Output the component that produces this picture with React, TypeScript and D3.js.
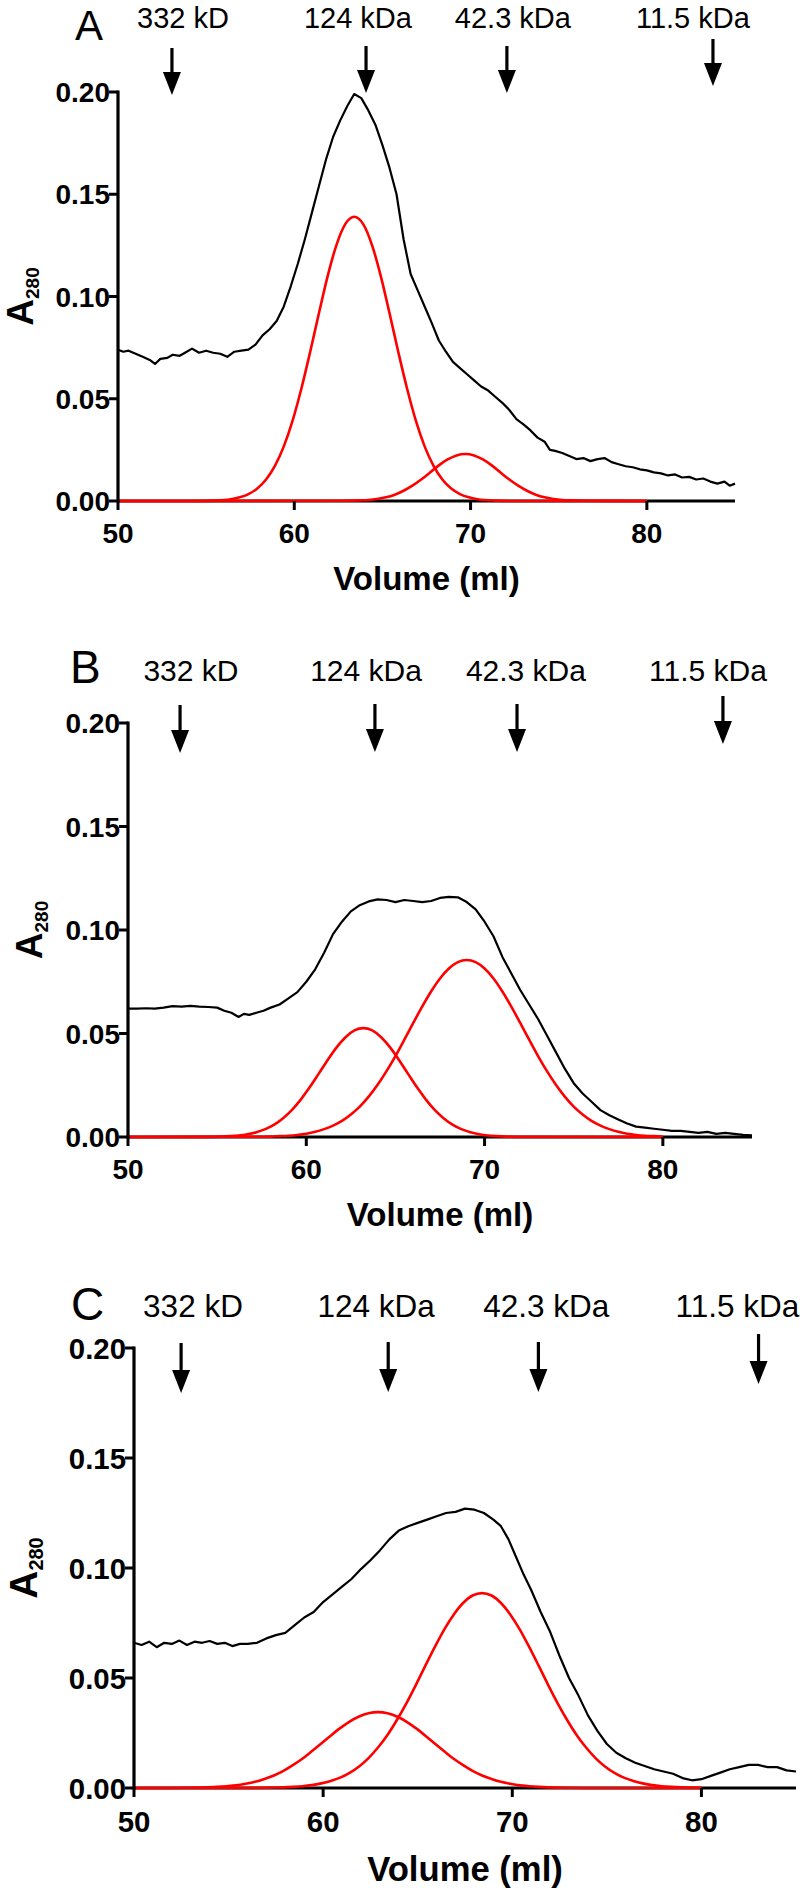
import React from "react";
import * as d3 from "d3";

// ---------- data ----------
const markerLabels = ["332 kD", "124 kDa", "42.3 kDa", "11.5 kDa"];
const xTicks = [50, 60, 70, 80];
const yTicks = [0, 0.05, 0.1, 0.15, 0.2];

// arrow positions (ml) and label centres (ml) for each panel
const arrowsA = [53.06, 64.07, 72.06, 83.75];
const arrowsB = [52.92, 63.85, 71.82, 83.37];
const arrowsC = [52.49, 63.44, 71.38, 83.02];
const labelsA = [53.69, 63.61, 72.4, 82.61];
const labelsB = [53.53, 63.35, 72.32, 82.53];
const labelsC = [53.12, 62.8, 71.8, 81.9];

// measured traces [volume ml, A280]
const traceA: [number, number][] = [
  [50.0, 0.074], [50.3, 0.073], [50.6, 0.0735], [51.0, 0.072], [51.4, 0.0705], [51.8, 0.069], [52.1, 0.067],
  [52.4, 0.0695], [52.8, 0.07], [53.1, 0.0715], [53.5, 0.071], [53.8, 0.0725], [54.2, 0.0745], [54.6, 0.0725],
  [55.0, 0.0735], [55.4, 0.0725], [55.8, 0.072], [56.2, 0.0705], [56.6, 0.073], [57.0, 0.0735], [57.4, 0.074],
  [57.8, 0.0765], [58.2, 0.081], [58.6, 0.084], [59.0, 0.088], [59.4, 0.095], [59.8, 0.105], [60.2, 0.116],
  [60.6, 0.128], [61.0, 0.141], [61.4, 0.154], [61.8, 0.167], [62.2, 0.178], [62.6, 0.186], [63.0, 0.193],
  [63.4, 0.199], [63.8, 0.197], [64.2, 0.191], [64.6, 0.184], [65.0, 0.174], [65.4, 0.163], [65.8, 0.15],
  [66.2, 0.128], [66.6, 0.111], [67.0, 0.103], [67.4, 0.095], [67.8, 0.087], [68.2, 0.0785], [68.6, 0.073],
  [69.0, 0.068], [69.4, 0.065], [69.8, 0.062], [70.2, 0.059], [70.6, 0.056], [71.0, 0.054], [71.4, 0.051],
  [71.8, 0.048], [72.2, 0.0445], [72.6, 0.04], [73.0, 0.0375], [73.4, 0.0345], [73.8, 0.031], [74.2, 0.029],
  [74.5, 0.025], [74.8, 0.0245], [75.2, 0.0235], [75.6, 0.022], [76.0, 0.0205], [76.4, 0.021], [76.8, 0.0195],
  [77.2, 0.0205], [77.6, 0.021], [78.0, 0.019], [78.4, 0.018], [78.8, 0.017], [79.2, 0.0165], [79.6, 0.0155],
  [80.0, 0.015], [80.4, 0.014], [80.8, 0.0135], [81.2, 0.0125], [81.6, 0.013], [82.0, 0.0115], [82.4, 0.0118],
  [82.8, 0.0105], [83.2, 0.011], [83.6, 0.0095], [84.0, 0.0085], [84.4, 0.0095], [84.7, 0.0075], [85.0, 0.0085],
];

const traceB: [number, number][] = [
  [50, 0.062], [50.5, 0.062], [51, 0.0622], [51.5, 0.062], [52, 0.0625], [52.5, 0.0632], [53, 0.063],
  [53.5, 0.0633], [54, 0.063], [54.5, 0.0628], [55, 0.0625], [55.4, 0.061], [55.8, 0.06], [56.2, 0.058],
  [56.5, 0.0595], [56.8, 0.059], [57.2, 0.06], [57.6, 0.061], [58, 0.0625], [58.5, 0.064], [59, 0.067],
  [59.5, 0.07], [60, 0.075], [60.5, 0.081], [61, 0.089], [61.5, 0.098], [62, 0.104], [62.5, 0.109], [63, 0.112],
  [63.5, 0.1138], [64, 0.1148], [64.5, 0.1145], [65, 0.1135], [65.5, 0.1145], [66, 0.114], [66.5, 0.1135],
  [67, 0.114], [67.5, 0.1155], [68, 0.116], [68.5, 0.1158], [69, 0.1135], [69.5, 0.11], [70, 0.104],
  [70.5, 0.097], [71, 0.087], [71.5, 0.079], [72, 0.071], [72.5, 0.064], [73, 0.057], [73.5, 0.049],
  [74, 0.041], [74.5, 0.033], [75, 0.026], [75.5, 0.021], [76, 0.017], [76.5, 0.013], [77, 0.0105],
  [77.5, 0.0085], [78, 0.0065], [78.5, 0.005], [79, 0.0045], [79.5, 0.004], [80, 0.0035], [80.5, 0.003],
  [81, 0.003], [81.5, 0.0025], [82, 0.002], [82.5, 0.0025], [83, 0.0015], [83.5, 0.002], [84, 0.0015],
  [84.5, 0.001], [85, 0.0008],
];

const traceC: [number, number][] = [
  [50, 0.066], [50.4, 0.065], [50.8, 0.0665], [51.2, 0.064], [51.6, 0.066], [52, 0.0655], [52.4, 0.067],
  [52.8, 0.065], [53.2, 0.0665], [53.6, 0.066], [54, 0.0668], [54.4, 0.0655], [54.8, 0.066], [55.2, 0.0645],
  [55.6, 0.0655], [56, 0.0655], [56.5, 0.066], [57, 0.068], [57.5, 0.0695], [58, 0.0705], [58.5, 0.074],
  [59, 0.0775], [59.5, 0.08], [60, 0.0845], [60.5, 0.088], [61, 0.0915], [61.5, 0.095], [62, 0.0995],
  [62.5, 0.1035], [63, 0.108], [63.5, 0.113], [64, 0.117], [64.5, 0.119], [65, 0.1205], [65.5, 0.122],
  [66, 0.1235], [66.5, 0.125], [67, 0.1255], [67.5, 0.127], [68, 0.1265], [68.5, 0.125], [69, 0.122],
  [69.4, 0.119], [69.8, 0.113], [70.2, 0.105], [70.6, 0.097], [71, 0.09], [71.5, 0.08], [72, 0.071],
  [72.5, 0.06], [73, 0.05], [73.5, 0.042], [74, 0.033], [74.5, 0.026], [75, 0.02], [75.5, 0.016],
  [76, 0.0135], [76.5, 0.0115], [77, 0.01], [77.5, 0.0085], [78, 0.0075], [78.5, 0.0065], [79, 0.0045],
  [79.5, 0.0035], [80, 0.004], [80.5, 0.0055], [81, 0.007], [81.5, 0.0085], [82, 0.0095], [82.5, 0.0105],
  [83, 0.0105], [83.5, 0.0095], [84, 0.0095], [84.5, 0.008], [85, 0.0075],
];

// fitted component curves [volume ml, A280]
const fitA1: [number, number][] = [
  [50, 0], [54.4, 0], [55.4, 0.0002], [56.4, 0.0009], [56.9, 0.0018], [57.4, 0.0034], [57.9, 0.0061],
  [58.4, 0.0105], [58.9, 0.0172], [59.4, 0.0266], [59.9, 0.0392], [60.4, 0.0549], [60.9, 0.0729],
  [61.4, 0.0919], [61.9, 0.1102], [62.4, 0.1254], [62.9, 0.1355], [63.4, 0.139], [63.9, 0.1355],
  [64.4, 0.1254], [64.9, 0.1102], [65.4, 0.0919], [65.9, 0.0729], [66.4, 0.0549], [66.9, 0.0392],
  [67.4, 0.0266], [67.9, 0.0172], [68.4, 0.0105], [68.9, 0.0061], [69.4, 0.0034], [69.9, 0.0018],
  [70.4, 0.0009], [71.4, 0.0002], [72.4, 0], [80, 0],
];
const fitA2: [number, number][] = [
  [50, 0], [62.7, 0.0001], [63.7, 0.0003], [64.2, 0.0005], [64.7, 0.001], [65.2, 0.0018], [65.7, 0.0031],
  [66.2, 0.005], [66.7, 0.0075], [67.2, 0.0105], [67.7, 0.0139], [68.2, 0.0174], [68.7, 0.0203],
  [69.2, 0.0223], [69.7, 0.023], [70.2, 0.0223], [70.7, 0.0203], [71.2, 0.0174], [71.7, 0.0139],
  [72.2, 0.0105], [72.7, 0.0075], [73.2, 0.005], [73.7, 0.0031], [74.2, 0.0018], [74.7, 0.001],
  [75.2, 0.0005], [75.7, 0.0003], [76.7, 0.0001], [80, 0],
];
const fitB1: [number, number][] = [
  [50, 0], [54.2, 0.00005], [55.2, 0.0002], [55.7, 0.0004], [56.2, 0.0007], [56.7, 0.0013], [57.2, 0.0023],
  [57.7, 0.0038], [58.2, 0.006], [58.7, 0.0091], [59.2, 0.0131], [59.7, 0.0182], [60.2, 0.0241],
  [60.7, 0.0306], [61.2, 0.0372], [61.7, 0.0433], [62.2, 0.0482], [62.7, 0.0515], [63.2, 0.0526],
  [63.7, 0.0515], [64.2, 0.0482], [64.7, 0.0433], [65.2, 0.0372], [65.7, 0.0306], [66.2, 0.0241],
  [66.7, 0.0182], [67.2, 0.0131], [67.7, 0.0091], [68.2, 0.006], [68.7, 0.0038], [69.2, 0.0023],
  [69.7, 0.0013], [70.2, 0.0007], [70.7, 0.0004], [71.2, 0.0002], [72.2, 0.00005], [80, 0],
];
const fitB2: [number, number][] = [
  [50, 0], [57, 0.0001], [58, 0.0002], [58.5, 0.0004], [59, 0.0006], [59.5, 0.001], [60, 0.0016],
  [60.5, 0.0025], [61, 0.0038], [61.5, 0.0055], [62, 0.0078], [62.5, 0.0109], [63, 0.0147], [63.5, 0.0195],
  [64, 0.0252], [64.5, 0.0318], [65, 0.0391], [65.5, 0.047], [66, 0.0551], [66.5, 0.063], [67, 0.0703],
  [67.5, 0.0766], [68, 0.0814], [68.5, 0.0845], [69, 0.0855], [69.5, 0.0845], [70, 0.0814], [70.5, 0.0766],
  [71, 0.0703], [71.5, 0.063], [72, 0.0551], [72.5, 0.047], [73, 0.0391], [73.5, 0.0318], [74, 0.0252],
  [74.5, 0.0195], [75, 0.0147], [75.5, 0.0109], [76, 0.0078], [76.5, 0.0055], [77, 0.0038], [77.5, 0.0025],
  [78, 0.0016], [78.5, 0.001], [79, 0.0006], [79.5, 0.0004], [80, 0.0002],
];
const fitC1: [number, number][] = [
  [50, 0], [51.9, 0.00003], [52.9, 0.0001], [53.9, 0.0003], [54.4, 0.0005], [54.9, 0.0008], [55.4, 0.0012],
  [55.9, 0.0019], [56.4, 0.0028], [56.9, 0.0041], [57.4, 0.0057], [57.9, 0.0078], [58.4, 0.0104],
  [58.9, 0.0133], [59.4, 0.0167], [59.9, 0.0202], [60.4, 0.0238], [60.9, 0.0272], [61.4, 0.0302],
  [61.9, 0.0325], [62.4, 0.034], [62.9, 0.0345], [63.4, 0.034], [63.9, 0.0325], [64.4, 0.0302],
  [64.9, 0.0272], [65.4, 0.0238], [65.9, 0.0202], [66.4, 0.0167], [66.9, 0.0133], [67.4, 0.0104],
  [67.9, 0.0078], [68.4, 0.0057], [68.9, 0.0041], [69.4, 0.0028], [69.9, 0.0019], [70.4, 0.0012],
  [70.9, 0.0008], [71.4, 0.0005], [71.9, 0.0003], [72.9, 0.0001], [73.9, 0.00003], [80, 0],
];
const fitC2: [number, number][] = [
  [50, 0], [56.4, 0.00005], [57.4, 0.0002], [57.9, 0.0003], [58.4, 0.0005], [58.9, 0.0008], [59.4, 0.0013],
  [59.9, 0.0021], [60.4, 0.0032], [60.9, 0.0047], [61.4, 0.0069], [61.9, 0.0098], [62.4, 0.0136],
  [62.9, 0.0184], [63.4, 0.0241], [63.9, 0.0309], [64.4, 0.0385], [64.9, 0.0468], [65.4, 0.0555],
  [65.9, 0.064], [66.4, 0.072], [66.9, 0.0788], [67.4, 0.0841], [67.9, 0.0875], [68.4, 0.0886],
  [68.9, 0.0875], [69.4, 0.0841], [69.9, 0.0788], [70.4, 0.072], [70.9, 0.064], [71.4, 0.0555],
  [71.9, 0.0468], [72.4, 0.0385], [72.9, 0.0309], [73.4, 0.0241], [73.9, 0.0184], [74.4, 0.0136],
  [74.9, 0.0098], [75.4, 0.0069], [75.9, 0.0047], [76.4, 0.0032], [76.9, 0.0021], [77.4, 0.0013],
  [77.9, 0.0008], [78.4, 0.0005], [78.9, 0.0003], [79.4, 0.0002], [80, 0.0001],
];

// ---------- layout ----------
const FONT = "'Liberation Sans', Arial, Helvetica, sans-serif";

type PanelCfg = {
  letter: string;
  x0: number; x1: number; yTop: number; yBot: number;
  letterX: number; letterY: number; letterSize: number;
  labelY: number; labelSize: number;
  arrowTips: number[]; arrowLen: number;
  yLabelX: number; k: number;
};

const panels: { cfg: PanelCfg; trace: [number, number][]; fits: [number, number][][]; arrows: number[]; labels: number[] }[] = [
  {
    cfg: { letter: "A", x0: 118, x1: 735, yTop: 92, yBot: 501, letterX: 75, letterY: 40, letterSize: 42, labelY: 28, labelSize: 29,
      arrowTips: [95, 93, 93, 86], arrowLen: 47, yLabelX: 33, k: 1 },
    trace: traceA, fits: [fitA1, fitA2], arrows: arrowsA, labels: labelsA,
  },
  {
    cfg: { letter: "B", x0: 128, x1: 752, yTop: 723, yBot: 1137, letterX: 70, letterY: 683, letterSize: 46, labelY: 681, labelSize: 30,
      arrowTips: [753, 752, 752, 744], arrowLen: 48, yLabelX: 42, k: 1 },
    trace: traceB, fits: [fitB1, fitB2], arrows: arrowsB, labels: labelsB,
  },
  {
    cfg: { letter: "C", x0: 134, x1: 796, yTop: 1348, yBot: 1788, letterX: 71, letterY: 1320, letterSize: 46, labelY: 1317, labelSize: 31.5,
      arrowTips: [1393, 1392, 1392, 1384], arrowLen: 50, yLabelX: 37, k: 1.05 },
    trace: traceC, fits: [fitC1, fitC2], arrows: arrowsC, labels: labelsC,
  },
];

function Panel({ cfg, trace, fits, arrows, labels }: (typeof panels)[number]) {
  const x = d3.scaleLinear().domain([50, 85]).range([cfg.x0, cfg.x1]);
  const y = d3.scaleLinear().domain([0, 0.2]).range([cfg.yBot, cfg.yTop]);
  const line = d3.line<[number, number]>().x((d) => x(d[0])).y((d) => y(d[1]));
  const smooth = d3
    .line<[number, number]>()
    .x((d) => x(d[0]))
    .y((d) => y(d[1]))
    .curve(d3.curveMonotoneX);
  const fmt = d3.format(".2f");
  const k = cfg.k;
  const tickFont = 28 * k;
  return (
    <g>
      {/* panel letter */}
      <text x={cfg.letterX} y={cfg.letterY} fontSize={cfg.letterSize} fontFamily={FONT}>
        {cfg.letter}
      </text>
      {/* marker labels and arrows */}
      {markerLabels.map((lab, i) => (
        <text key={lab} x={x(labels[i])} y={cfg.labelY} fontSize={cfg.labelSize} fontFamily={FONT} textAnchor="middle">
          {lab}
        </text>
      ))}
      {arrows.map((a, i) => {
        const ax = x(a);
        const tip = cfg.arrowTips[i];
        const top = tip - cfg.arrowLen;
        return (
          <g key={i}>
            <line x1={ax} x2={ax} y1={top} y2={tip - 18} stroke="#000" strokeWidth={3.2} />
            <path d={`M${ax - 9},${tip - 23} L${ax + 9},${tip - 23} L${ax},${tip} Z`} fill="#000" />
          </g>
        );
      })}
      {/* traces */}
      <path d={line(trace) || ""} fill="none" stroke="#000" strokeWidth={2.2} strokeLinejoin="round" />
      {/* x axis */}
      <line x1={cfg.x0} x2={cfg.x1} y1={cfg.yBot} y2={cfg.yBot} stroke="#000" strokeWidth={3.2} />
      {fits.map((f, i) => (
        <path key={i} d={smooth(f) || ""} fill="none" stroke="#ff0000" strokeWidth={2.6} strokeLinejoin="round" />
      ))}
      {/* y axis */}
      <line x1={cfg.x0} x2={cfg.x0} y1={cfg.yTop - 1.5} y2={cfg.yBot + 1.5} stroke="#000" strokeWidth={3.2} />
      {yTicks.map((t) => (
        <g key={t}>
          <line x1={cfg.x0 - 9} x2={cfg.x0} y1={y(t)} y2={y(t)} stroke="#000" strokeWidth={3} />
          <text x={cfg.x0 - 8} y={y(t) + tickFont * 0.36} fontSize={tickFont} fontWeight="bold" fontFamily={FONT} textAnchor="end">
            {fmt(t)}
          </text>
        </g>
      ))}
      {xTicks.map((t) => (
        <g key={t}>
          <line x1={x(t)} x2={x(t)} y1={cfg.yBot} y2={cfg.yBot + 9} stroke="#000" strokeWidth={3} />
          <text x={x(t)} y={cfg.yBot + 42 * k} fontSize={tickFont} fontWeight="bold" fontFamily={FONT} textAnchor="middle">
            {t}
          </text>
        </g>
      ))}
      <text x={(cfg.x0 + cfg.x1) / 2} y={cfg.yBot + 89 * k} fontSize={33 * k} fontWeight="bold" fontFamily={FONT} textAnchor="middle">
        Volume (ml)
      </text>
      {/* y axis title */}
      <text
        transform={`translate(${cfg.yLabelX},${(cfg.yTop + cfg.yBot) / 2}) rotate(-90)`}
        fontWeight="bold"
        fontFamily={FONT}
        textAnchor="middle"
      >
        <tspan fontSize={37 * k}>A</tspan>
        <tspan fontSize={19 * k} dy={6}>280</tspan>
      </text>
    </g>
  );
}

export default function App() {
  return (
    <svg
      width={800}
      height={1891}
      viewBox="0 0 800 1891"
      style={{ position: "absolute", left: 0, top: 0, display: "block", background: "#fff" }}
    >
      <rect x={0} y={0} width={800} height={1891} fill="#fff" />
      {panels.map((p) => (
        <Panel key={p.cfg.letter} {...p} />
      ))}
    </svg>
  );
}
